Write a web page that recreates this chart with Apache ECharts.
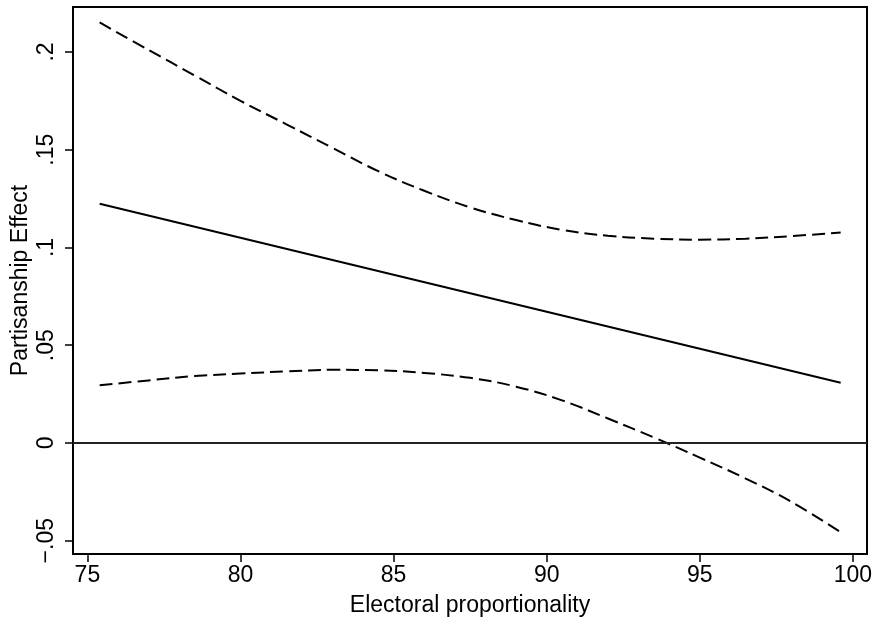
<!DOCTYPE html>
<html>
<head>
<meta charset="utf-8">
<script src="https://cdn.jsdelivr.net/npm/echarts@6/dist/echarts.min.js"></script>
<style>html,body{margin:0;padding:0;background:#fff}#c{width:875px;height:620px}</style>
</head>
<body>
<div id="c"></div>
<script>
// Data
const xValues = [75.4, 77, 78.5, 80, 81.5, 83, 84.5, 86, 87.5, 89, 90.5, 92, 93.5, 95, 96.5, 98, 99.6];
const upperCI = [0.2151, 0.201, 0.188, 0.175, 0.163, 0.151, 0.139, 0.129, 0.1205, 0.114, 0.109, 0.106, 0.1045, 0.104, 0.1045, 0.1058, 0.1077];
const lowerCI = [0.0295, 0.032, 0.0342, 0.0355, 0.0366, 0.0374, 0.0372, 0.0358, 0.0333, 0.0288, 0.0218, 0.0125, 0.0028, -0.0075, -0.0182, -0.0302, -0.0457];
const effectX = [75.4, 99.6];
const effectY = [0.1224, 0.0308];
const xTicks = [75, 80, 85, 90, 95, 100];
const xTickLabels = ['75', '80', '85', '90', '95', '100'];
const yTicks = [-0.05, 0, 0.05, 0.1, 0.15, 0.2];
const yTickLabels = ['\u2212.05', '0', '.05', '.1', '.15', '.2'];
const xTitle = 'Electoral proportionality';
const yTitle = 'Partisanship Effect';

const font = '"Liberation Sans", Arial, sans-serif';
const zip = (xs, ys) => xs.map((x, i) => [x, ys[i]]);

const chart = echarts.init(document.getElementById('c'), null, {renderer: 'canvas'});
chart.setOption({
  animation: false,
  backgroundColor: '#fff',
  grid: {left: 73, right: 8, top: 7, bottom: 66, outerBoundsMode: 'none', containLabel: false,
    show: true, borderColor: '#000', borderWidth: 2, backgroundColor: 'transparent'},
  xAxis: {
    type: 'value', min: 74.53, max: 100.46,
    name: xTitle, nameLocation: 'middle', nameGap: 40, nameMoveOverlap: false,
    nameTextStyle: {fontFamily: font, fontSize: 23, color: '#000'},
    axisLine: {show: true, onZero: false, lineStyle: {color: '#000', width: 2}},
    axisTick: {show: true, inside: false, length: 8, lineStyle: {color: '#000', width: 1.5}, customValues: xTicks},
    axisLabel: {fontFamily: font, fontSize: 23, color: '#000', margin: 10, customValues: xTicks,
      formatter: v => { const i = xTicks.findIndex(t => Math.abs(t - v) < 1e-9); return i >= 0 ? xTickLabels[i] : ''; }},
    splitLine: {show: false}
  },
  yAxis: {
    type: 'value', min: -0.0568, max: 0.2230,
    name: yTitle, nameLocation: 'middle', nameGap: 41, nameRotate: 90, nameMoveOverlap: false,
    nameTextStyle: {fontFamily: font, fontSize: 23, color: '#000'},
    axisLine: {show: true, onZero: false, lineStyle: {color: '#000', width: 2}},
    axisTick: {show: true, inside: false, length: 8, lineStyle: {color: '#000', width: 1.5}, customValues: yTicks},
    axisLabel: {fontFamily: font, fontSize: 23, color: '#000', margin: 15, rotate: 90, customValues: yTicks,
      formatter: v => { const i = yTicks.findIndex(t => Math.abs(t - v) < 1e-9); return i >= 0 ? yTickLabels[i] : ''; }},
    splitLine: {show: false}
  },
  series: [
    {
      type: 'line', data: zip(xValues, upperCI), smooth: 0.4, showSymbol: false,
      lineStyle: {color: '#000', width: 2, type: [13, 6]}
    },
    {
      type: 'line', data: zip(xValues, lowerCI), smooth: 0.4, showSymbol: false,
      lineStyle: {color: '#000', width: 2, type: [13, 6]}
    },
    {
      type: 'line', data: zip(effectX, effectY), showSymbol: false,
      lineStyle: {color: '#000', width: 2},
      markLine: {silent: true, symbol: 'none', label: {show: false},
        lineStyle: {color: '#222', width: 2, type: 'solid', opacity: 1}, data: [{yAxis: 0}]}
    }
  ]
});
</script>
</body>
</html>
